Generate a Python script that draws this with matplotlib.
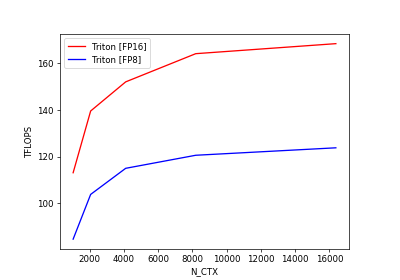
import matplotlib
matplotlib.use("Agg")
import matplotlib.pyplot as plt

# sequence lengths and measured throughput
n_ctx = [1024, 2048, 4096, 8192, 16384]
tflops_fp16 = [113.1, 139.6, 152.1, 164.2, 168.5]
tflops_fp8 = [84.6, 103.8, 115.0, 120.6, 123.8]

fig = plt.figure(figsize=(6.4, 4.48), dpi=62.5)
ax = fig.add_axes([0.15, 0.111, 0.7225, 0.768])

ax.plot(n_ctx, tflops_fp16, color="red", label="Triton [FP16]")
ax.plot(n_ctx, tflops_fp8, color="blue", label="Triton [FP8]")

ax.set_xlabel("N_CTX")
ax.set_ylabel("TFLOPS")
ax.legend(loc="upper left")

fig.savefig("out.png", dpi=62.5)
